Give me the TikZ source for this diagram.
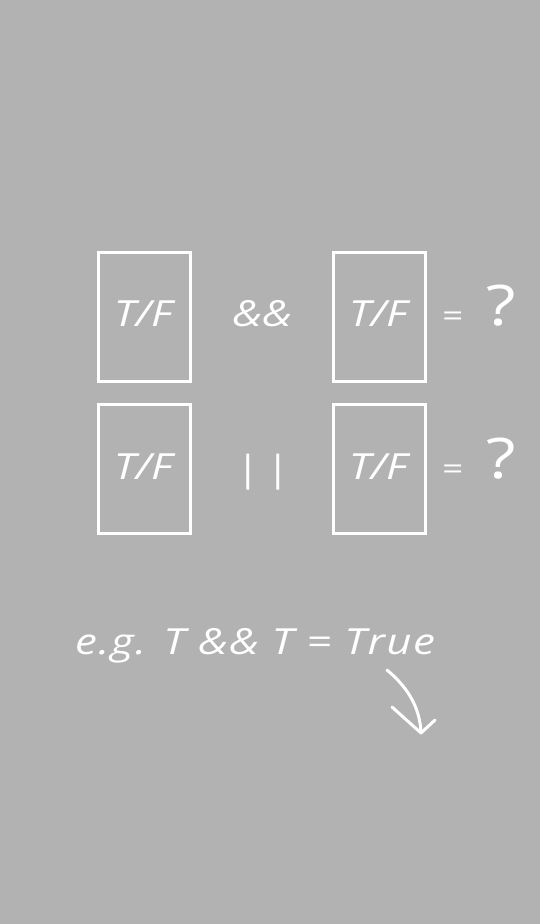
\documentclass[tikz,border=0pt]{standalone}
\usepackage{fontspec}
\setmainfont{Open Sans}
\newfontfamily\handfont[FakeStretch=1.22]{Open Sans}
\newfontfamily\exfont[FakeStretch=1.22,LetterSpace=4]{Open Sans}
\definecolor{bg}{RGB}{178,178,178}
\begin{document}
\begin{tikzpicture}[x=1pt,y=-1pt,
  tfbox/.style={draw=white,line width=3pt,minimum width=92pt,minimum height=129pt,inner sep=0pt},
  hand/.style={text=white,font=\handfont\itshape\fontsize{36}{40}\selectfont,inner sep=0pt,anchor=base},
  exs/.style={text=white,font=\exfont\itshape\fontsize{36}{40}\selectfont,inner sep=0pt,anchor=base west},
  ques/.style={text=white,font=\handfont\fontsize{56}{60}\selectfont,inner sep=0pt,anchor=base},
  eqs/.style={text=white,font=\handfont\itshape\fontsize{30}{34}\selectfont,inner sep=0pt,anchor=base}]
\fill[bg] (0,0) rectangle (540,924);
\useasboundingbox (0,0) rectangle (540,924);
% row 1
\node[tfbox] (b1) at (144,316.5) {};
\node[tfbox] (b2) at (379.5,316.5) {};
\node[hand] (t1) at (143,326) {T/F};
\node[hand] (t2) at (378,326) {T/F};
\node[hand] (and) at (262,326) {\&\&};
\node[eqs] (e1) at (452,326) {=};
\node[ques] (q1) at (501,325) {?};
% row 2
\node[tfbox] (b3) at (144,468.5) {};
\node[tfbox] (b4) at (379.5,468.5) {};
\node[hand] (t3) at (143,479) {T/F};
\node[hand] (t4) at (378,479) {T/F};
\node[hand] (or) at (262,481) {|\,|};
\node[eqs] (e2) at (452,479) {=};
\node[ques] (q2) at (501,478) {?};
% example
\node[exs] (ex) at (75,654) {e.g. T \&\& T = True};
% arrow
\coordinate (as) at (387,670);
\coordinate (tip) at (421,733);
\coordinate (hl) at (392,707);
\coordinate (hr) at (435,720);
\draw[white,line width=3pt,line cap=round,line join=round]
  (as) .. controls (405,685) and (420,705) .. (tip);
\draw[white,line width=3pt,line cap=round,line join=round] (hl) -- (tip) -- (hr);
\end{tikzpicture}
\end{document}
